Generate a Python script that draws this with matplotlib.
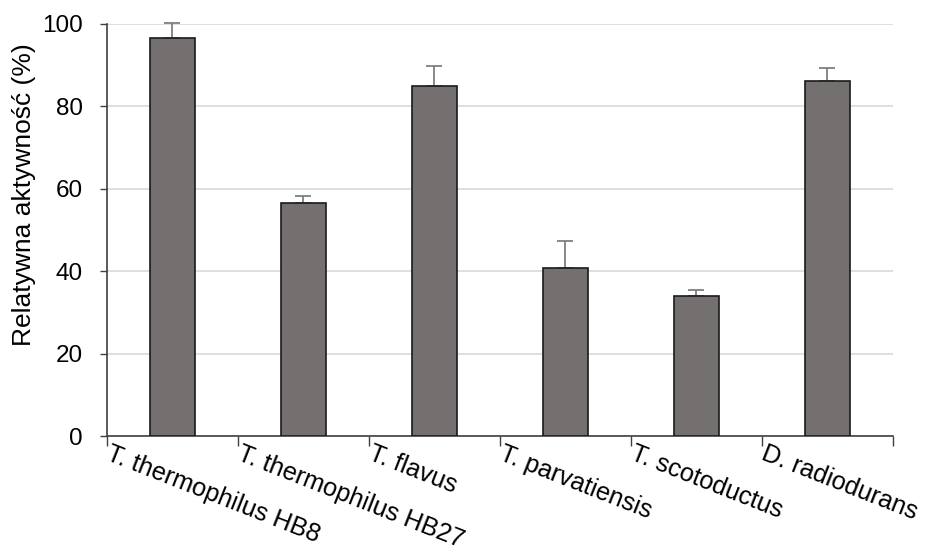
import numpy as np
import matplotlib.pyplot as plt

plt.rcParams['font.family'] = ['Liberation Sans', 'DejaVu Sans']

strains = ['T. thermophilus HB8', 'T. thermophilus HB27', 'T. flavus',
           'T. parvatiensis', 'T. scotoductus', 'D. radiodurans']
activity = [96.6, 56.5, 85.0, 40.8, 33.9, 86.0]
err_up = [3.5, 1.7, 4.8, 6.4, 1.5, 3.3]

fig = plt.figure(figsize=(9.28, 5.52), dpi=100)
ax = fig.add_axes([0.115, 0.21, 0.847, 0.747])

x = np.arange(len(strains))
ax.bar(x, activity, width=0.345, color='#747070', edgecolor='#1a1a1a', lw=1.2, zorder=3)
eb = ax.errorbar(x, activity, yerr=[np.zeros(len(err_up)), err_up], fmt='none',
                 ecolor='#7f7f7f', elinewidth=1.3, capsize=6, capthick=1.3, zorder=2)
for part in eb.lines[1] + eb.lines[2]:
    part.set_clip_on(False)

ax.set_xlim(-0.5, len(strains) - 0.5)
ax.set_ylim(0, 100)
ax.set_yticks(range(0, 101, 20))
ax.yaxis.grid(True, color='#d9d9d9', lw=1.2, zorder=0)
ax.set_axisbelow(True)

# category ticks sit on the boundaries, labels start just right of them
ax.set_xticks(np.arange(len(strains) + 1) - 0.5, minor=False)
ax.set_xticklabels([])
ax.set_xticks(x - 0.5 + 0.04, minor=True)
ax.set_xticklabels(strains, minor=True, rotation=-21.5, ha='left', va='top',
                   rotation_mode='anchor', fontsize=18.2)
ax.tick_params(axis='x', which='major', length=7, color='#404040', width=1)
ax.tick_params(axis='x', which='minor', length=0, pad=4)
ax.tick_params(axis='y', length=5, color='#404040', width=1, labelsize=17.5, pad=12)

for s in ['top', 'right']:
    ax.spines[s].set_visible(False)
for s in ['left', 'bottom']:
    ax.spines[s].set_color('#404040')
    ax.spines[s].set_linewidth(1.2)

ax.set_ylabel('Relatywna aktywność (%)', fontsize=19)
ax.yaxis.set_label_coords(-0.09, 0.585)

fig.savefig('out.png', dpi=100)
